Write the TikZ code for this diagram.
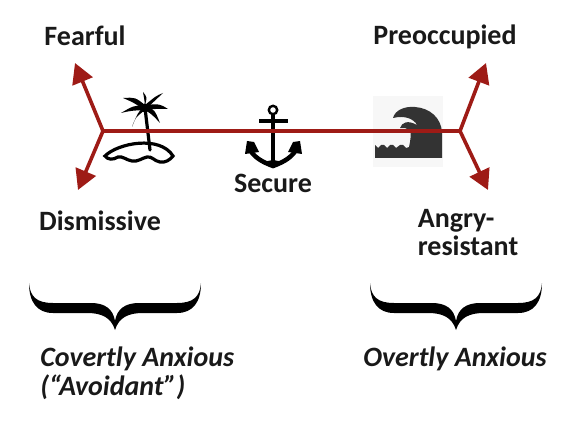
\documentclass[tikz,border=0pt]{standalone}
\usepackage{fontspec}
\setmainfont{Carlito}
\usetikzlibrary{arrows.meta}
\definecolor{rust}{HTML}{9E1B16}
\definecolor{wavec}{HTML}{333333}
\tikzset{
 lbl/.style={font=\fontsize{21}{21}\selectfont\bfseries,text=black!90,inner sep=0pt,align=center},
 ilbl/.style={lbl,font=\fontsize{21}{22}\selectfont\bfseries\itshape},
 conn/.style={draw=rust,line width=2.7pt,-{Triangle[length=15pt,width=16pt]}},
 bar/.style={draw=rust,line width=2.5pt},
 ink/.style={draw=black,line width=1.7pt,line cap=round},
 bracefill/.style={fill=black,draw=none}
}
\newcommand{\mybrace}[2]{%
 \fill[bracefill,shift={(#1,0)}] (0,283) .. controls (1,297) and (8,303) .. (24,303)
  -- (62,303) .. controls (76,303) and (84,309) .. (86,321)
  .. controls (88,309) and (96,303) .. (110,303) -- (#2-24,303)
  .. controls (#2-8,303) and (#2-1,297) .. (#2,283)
  .. controls (#2,302) and (#2-8,313) .. (#2-24,313) -- (114,313)
  .. controls (100,313) and (90,317) .. (86,330)
  .. controls (82,317) and (72,313) .. (58,313) -- (24,313)
  .. controls (8,313) and (0,302) .. (0,283) -- cycle;}
\begin{document}
\begin{tikzpicture}[x=0.75pt,y=-0.75pt]
\useasboundingbox (0,0) rectangle (580,420);
% wave backdrop
\fill[black!3] (373,96) rectangle (443,167);
% island
\draw[ink,line width=2.4pt] (105,156) .. controls (118,143) and (160,135) .. (173,156)
  .. controls (170,160) and (165,163) .. (160,162) .. controls (154,161) and (152,156) .. (147,157)
  .. controls (142,158) and (138,162) .. (132,161) .. controls (126,160) and (123,156) .. (118,157)
  .. controls (113,160) and (108,160) .. (105,156) -- cycle;
\draw[ink,line width=2.4pt] (145,108) -- (150,150);
\fill (145,108) circle (4.5);
\foreach \x/\y/\a/\b in {143/92/2/0,163/93/1/-2,168/109/2/-2,160/123/1/-3,123/98/0/-3,121/113/-1/-2,132/127/-2/-2}{
 \fill (145,105) .. controls ({(145+\x)/2+\a+1.2},{(105+\y)/2+\b-1.2}) .. (\x,\y) .. controls ({(145+\x)/2+\a-1.2},{(110+\y)/2+\b+1.2}) .. (145,110);
}
% anchor
\draw[ink,line width=1.8pt] (273,110) circle (4.2);
\draw[ink,line width=2.8pt,line cap=butt] (259,121) -- (288,121);
\draw[ink,line width=3.4pt,line cap=butt] (273,114) -- (273,164);
\draw[ink,line width=3.4pt] (250,150) .. controls (256,160) and (268,164) .. (273,166) .. controls (278,164) and (290,160) .. (296,150);
\fill (245,154) -- (247,141) -- (254,142) -- (259,152) -- cycle;
\fill (302,154) -- (300,141) -- (293,142) -- (288,152) -- cycle;
\fill (262,162) -- (273,168) -- (284,162) -- (273,160) -- cycle;
% wave
\fill[wavec] (375,145) -- (378,148) -- (381,145) -- (384,145) -- (387,148) -- (390,145) -- (393,145) -- (396,148) -- (400,145) -- (403,145) -- (406,148) -- (409,147)
  .. controls (411,138) and (411,133) .. (410,130)
  .. controls (407,128) and (404,128) .. (400,128)
  .. controls (402,122) and (408,120) .. (417,125)
  .. controls (414,119) and (405,115) .. (393,118)
  .. controls (395,110) and (405,106) .. (415,107)
  .. controls (430,108) and (441,118) .. (442,132)
  -- (442,158) -- (375,158) -- cycle;
% connectors
\coordinate (jl) at (103,131);
\coordinate (jr) at (460,131);
\coordinate (tl) at (75,63);
\coordinate (bl) at (78,190);
\coordinate (tr) at (486,63);
\coordinate (br) at (488,190);
\draw[bar] (jl) -- (jr);
\draw[conn] (jl) -- (tl);
\draw[conn] (jl) -- (bl);
\draw[conn] (jr) -- (tr);
\draw[conn] (jr) -- (br);
% braces
\mybrace{29}{172}
\mybrace{370}{172}
% labels
\node[lbl] (fearful) at (85,36) {Fearful};
\node[lbl] (preocc) at (445,37) {Preoccupied};
\node[lbl] (secure) at (273,183) {Secure};
\node[lbl] (dism) at (100,221) {Dismissive};
\node[lbl,align=left] (angry) at (468,233) {Angry-\\resistant};
\node[ilbl,align=left,anchor=west] (cov) at (40,373) {Covertly Anxious\\(“Avoidant”)};
\node[ilbl] (ovt) at (455,359) {Overtly Anxious};
\end{tikzpicture}
\end{document}
